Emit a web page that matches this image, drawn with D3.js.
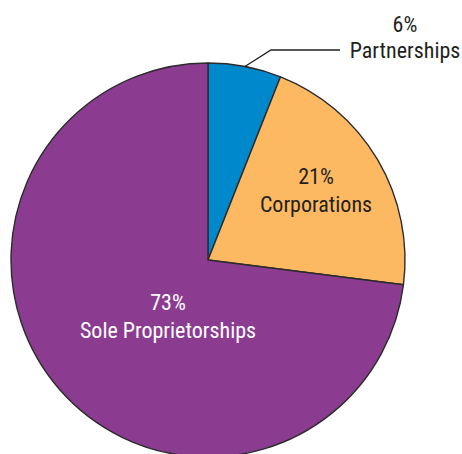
<!DOCTYPE html>
<html>
<head>
<meta charset="utf-8">
<script src="https://cdn.jsdelivr.net/npm/d3@7/dist/d3.min.js"></script>
<style>
  html, body { margin: 0; padding: 0; background: #fff; }
  svg text { font-family: "Liberation Sans Narrow", "Roboto Condensed", "Roboto", "Liberation Sans", sans-serif; }
</style>
</head>
<body>
<svg id="chart" width="462" height="454"></svg>
<script>
// Business forms by share of firms
const categories = ["Partnerships", "Corporations", "Sole Proprietorships"];
const shares = [6, 21, 73];
const colors = ["#0088cc", "#fdb961", "#8b3c91"];
const textColors = ["#231f20", "#231f20", "#ffffff"];

const svg = d3.select("#chart");
const cx = 208, cy = 260, radius = 197;

const data = categories.map((c, i) => ({ name: c, value: shares[i], color: colors[i], text: textColors[i] }));

const pie = d3.pie().value(d => d.value).sort(null);
const arcs = pie(data);
const arc = d3.arc().innerRadius(0).outerRadius(radius);

const g = svg.append("g").attr("transform", `translate(${cx},${cy})`);

g.selectAll("path.slice")
  .data(arcs)
  .join("path")
  .attr("class", "slice")
  .attr("d", arc)
  .attr("fill", d => d.data.color)
  .attr("stroke", "#2b2b2b")
  .attr("stroke-width", 1.4)
  .attr("stroke-linejoin", "round");

const fontSize = 22;

// Inside labels for the two larger slices
const labelPos = {
  "Corporations": [108, -76],
  "Sole Proprietorships": [-40, 50]
};

arcs.filter(d => labelPos[d.data.name]).forEach(d => {
  const [x, y] = labelPos[d.data.name];
  const t = g.append("text")
    .attr("text-anchor", "middle")
    .attr("fill", d.data.text)
    .attr("font-size", fontSize);
  t.append("tspan").attr("x", x).attr("y", y).text(d.data.value + "%");
  t.append("tspan").attr("x", x).attr("y", y + 27.8).text(d.data.name);
});

// Callout for the small slice, leaving from the middle of its arc
const small = arcs[0];
const mid = (small.startAngle + small.endAngle) / 2;
const p0 = [Math.sin(mid) * radius, -Math.cos(mid) * radius];
const elbow = [63, -210];
const lineEnd = [132, -210];
g.append("polyline")
  .attr("points", [p0, elbow, lineEnd].map(p => p.join(",")).join(" "))
  .attr("fill", "none")
  .attr("stroke", "#231f20")
  .attr("stroke-width", 1.3);

const ct = g.append("text")
  .attr("text-anchor", "middle")
  .attr("fill", "#231f20")
  .attr("font-size", fontSize);
ct.append("tspan").attr("x", 197).attr("y", -228).text(small.data.value + "%");
ct.append("tspan").attr("x", 197).attr("y", -202).text(small.data.name);
</script>
</body>
</html>
